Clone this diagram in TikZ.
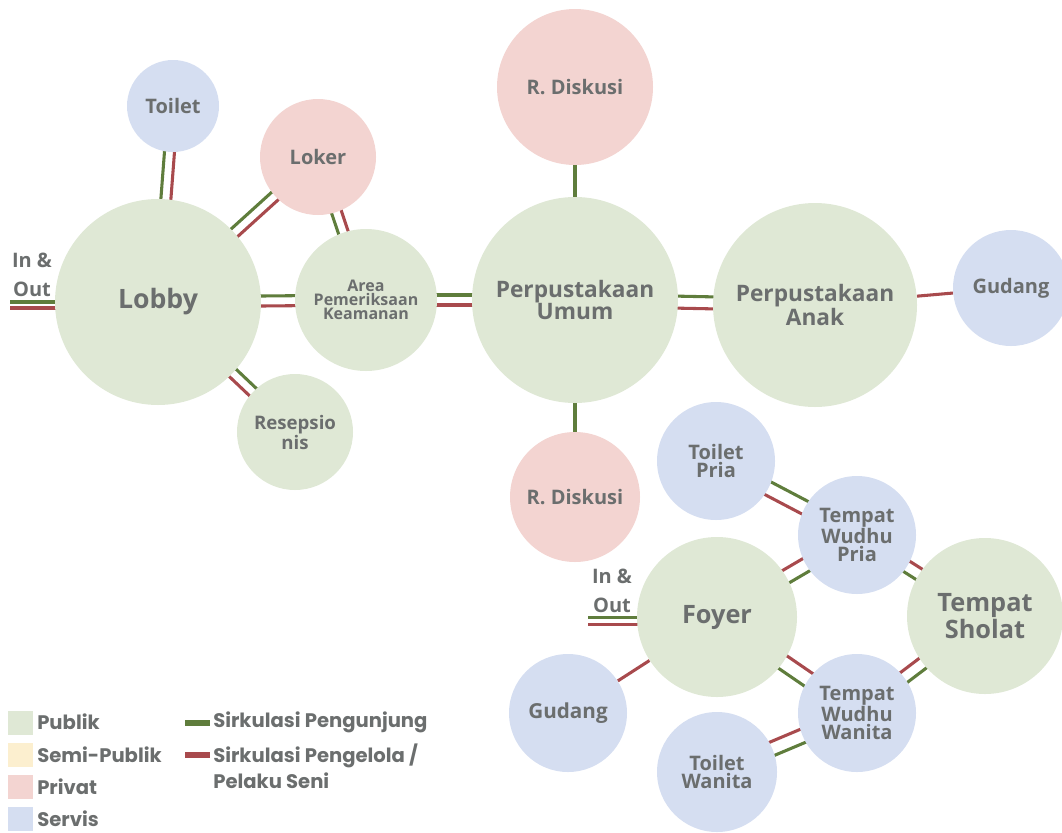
\documentclass[tikz,border=0pt]{standalone}
\usepackage{fontspec}
\setmainfont{Open Sans}
\newfontfamily\legfont{Poppins}
\usetikzlibrary{calc,backgrounds}
\definecolor{pub}{HTML}{DFE8D5}
\definecolor{semi}{HTML}{FCEFCF}
\definecolor{priv}{HTML}{F3D4D1}
\definecolor{serv}{HTML}{D5DEF1}
\definecolor{gline}{HTML}{5F7D3C}
\definecolor{rline}{HTML}{A84A4D}
\definecolor{txt}{HTML}{6B6E6E}
\newcommand\fs[2]{\fontsize{#1}{#2}\selectfont\bfseries}
\newcommand\dconn[3][5]{%
  \draw[gl] ($(#2)!#1*0.75pt!90:(#3)$) -- ($(#3)!#1*0.75pt!-90:(#2)$);
  \draw[rl] ($(#2)!#1*0.75pt!-90:(#3)$) -- ($(#3)!#1*0.75pt!90:(#2)$);}
\tikzset{
  room/.style={circle, inner sep=0pt, align=center, text=txt},
  gl/.style={draw=gline, line width=2.3pt},
  rl/.style={draw=rline, line width=2.3pt},
  legsq/.style={inner sep=0pt, minimum width=18.75pt, minimum height=18pt},
  legbar/.style={inner sep=0pt, minimum width=18.75pt, minimum height=3.8pt},
  legtext/.style={anchor=west, inner sep=0pt, text=txt, align=left, font=\legfont\fs{14.7}{19.5}},
}
\begin{document}
\begin{tikzpicture}[x=0.75pt, y=-0.75pt]
\useasboundingbox (0,0) rectangle (1062,832);
% rooms
\node[room, fill=pub, minimum size=206*0.75pt, font=\fs{20}{20}] (lobby) at (158,302) {Lobby};
\node[room, fill=serv, minimum size=92*0.75pt, font=\fs{15}{15}] (toilet) at (173,106) {Toilet};
\node[room, fill=priv, minimum size=116*0.75pt, font=\fs{15}{15}] (loker) at (318,157) {Loker};
\node[room, fill=pub, minimum size=142*0.75pt, font=\fs{12}{10.6}] (area) at (366,300) {Area\\Pemeriksaan\\Keamanan};
\node[room, fill=pub, minimum size=116*0.75pt, font=\fs{14}{12.8}] (resep) at (295,432) {Resepsio\\nis};
\node[room, fill=pub, minimum size=206*0.75pt, font=\fs{17}{14.5}] (umum) at (575,300) {Perpustakaan\\Umum};
\node[room, fill=priv, minimum size=156*0.75pt, font=\fs{15}{15}] (rd1) at (575,87) {R. Diskusi};
\node[room, fill=priv, minimum size=130*0.75pt, font=\fs{15}{15}] (rd2) at (575,497) {R. Diskusi};
\node[room, fill=pub, minimum size=204*0.75pt, font=\fs{17}{14.5}] (anak) at (815,305) {Perpustakaan\\Anak};
\node[room, fill=serv, minimum size=116*0.75pt, font=\fs{15}{15}] (gud1) at (1011,288) {Gudang};
\node[room, fill=serv, minimum size=118*0.75pt, font=\fs{15}{13.2}] (tp) at (716,461) {Toilet\\Pria};
\node[room, fill=serv, minimum size=118*0.75pt, font=\fs{15}{13.4}] (wp) at (857,535) {Tempat\\Wudhu\\Pria};
\node[room, fill=pub, minimum size=156*0.75pt, font=\fs{19}{16.5}] (sholat) at (985,616) {Tempat\\Sholat};
\node[room, fill=pub, minimum size=160*0.75pt, font=\fs{19}{19}] (foyer) at (717,617) {Foyer};
\node[room, fill=serv, minimum size=118*0.75pt, font=\fs{15.5}{15.5}] (gud2) at (568,713) {Gudang};
\node[room, fill=serv, minimum size=118*0.75pt, font=\fs{15}{13.4}] (ww) at (857,713) {Tempat\\Wudhu\\Wanita};
\node[room, fill=serv, minimum size=120*0.75pt, font=\fs{15}{13.2}] (tw) at (717,772) {Toilet\\Wanita};
% in & out
\node[text=txt, align=center, inner sep=0pt, font=\fs{15}{22}] (io1) at (32,275) {In \&\\Out};
\node[text=txt, align=center, inner sep=0pt, font=\fs{15}{22}] (io2) at (612,591) {In \&\\Out};
\coordinate (lin) at (10,305);
\coordinate (lie) at (62,305);
\coordinate (fin) at (588,621);
\coordinate (fie) at (645,621);
% connectors
\begin{scope}[on background layer]
  \dconn[3]{lin}{lie}
  \dconn{lobby}{toilet}
  \dconn{lobby}{loker}
  \dconn{area}{loker}
  \dconn{lobby}{area}
  \dconn{lobby}{resep}
  \dconn{area}{umum}
  \dconn[6]{umum}{anak}
  \draw[gl] (umum) -- (rd1);
  \draw[gl] (umum) -- (rd2);
  \draw[rl] (anak) -- (gud1);
  \draw[rl] (foyer) -- (gud2);
  \dconn[3.5]{fin}{fie}
  \dconn[7]{tp}{wp}
  \dconn[7]{wp}{foyer}
  \dconn[6]{sholat}{wp}
  \dconn[7.5]{ww}{foyer}
  \dconn[6]{sholat}{ww}
  \dconn[7]{ww}{tw}
\end{scope}
% legend
\node[legsq, fill=pub] (sq1) at (20.5,722.5) {};
\node[legsq, fill=semi] (sq2) at (20.5,755) {};
\node[legsq, fill=priv] (sq3) at (20.5,787) {};
\node[legsq, fill=serv] (sq4) at (20.5,819) {};
\node[legtext] (t1) at (37,722) {Publik};
\node[legtext] (t2) at (37,755) {Semi-Publik};
\node[legtext] (t3) at (37,787) {Privat};
\node[legtext] (t4) at (37,819) {Servis};
\node[legbar, fill=gline] (b1) at (197.5,723) {};
\node[legbar, fill=rline] (b2) at (197.5,755) {};
\node[legtext] (t5) at (213,722) {Sirkulasi Pengunjung};
\node[legtext, anchor=north west] (t6) at (213,744) {Sirkulasi Pengelola /\\Pelaku Seni};
\end{tikzpicture}
\end{document}
